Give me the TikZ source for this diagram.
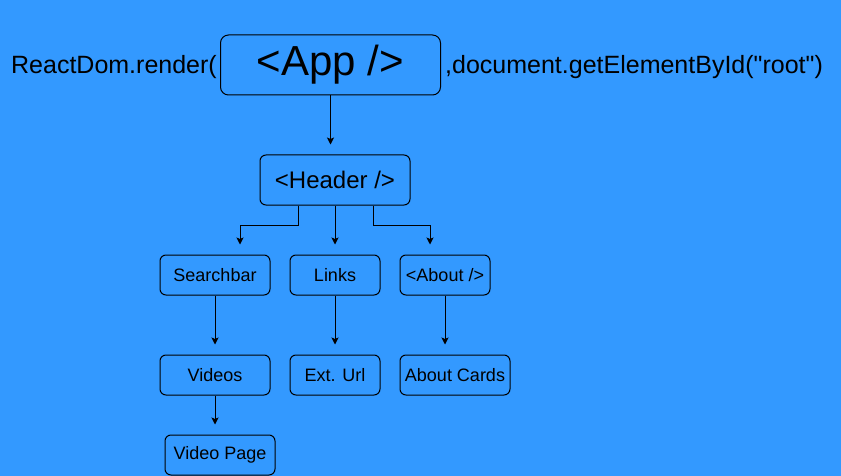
\documentclass[tikz,border=0pt]{standalone}
\usepackage{fontspec}
\setmainfont{Liberation Sans}
\usetikzlibrary{arrows.meta,calc}
\definecolor{bg}{HTML}{3399FF}
\tikzset{
  box/.style={draw=black, line width=1pt, rounded corners=6pt, inner sep=0pt, align=center, text=black},
  arr/.style={draw=black, line width=1pt, -{Stealth[length=7pt,width=7pt,inset=1.5pt]}, shorten >=10pt},
  small/.style={font=\fontsize{18}{20}\selectfont},
}
\begin{document}
\begin{tikzpicture}[x=1pt,y=-1pt]
\fill[bg] (0,0) rectangle (841,476);
\useasboundingbox (0,0) rectangle (841,476);

\node[box, rounded corners=8pt, minimum width=220pt, minimum height=60pt, font=\fontsize{42}{46}\selectfont] (app) at (330.5,65) {<App />};
\node[anchor=base east, inner sep=0pt, font=\fontsize{25}{28}\selectfont] (rd) at (217,74) {ReactDom.render(};
\node[anchor=base west, inner sep=0pt, font=\fontsize{25}{28}\selectfont\addfontfeature{Ligatures=TeXOff}] (doc) at (445,74) {,document.getElementById("root")};

\node[box, minimum width=150pt, minimum height=50pt, font=\fontsize{24}{28}\selectfont] (hdr) at (335,180) {<Header />};

\node[box, small, minimum width=110pt, minimum height=40pt] (sb) at (215,275) {Searchbar};
\node[box, small, minimum width=90pt, minimum height=40pt] (lk) at (335,275) {Links};
\node[box, small, minimum width=90pt, minimum height=40pt] (ab) at (445,275) {<About />};

\node[box, small, minimum width=110pt, minimum height=40pt] (vid) at (215,375) {Videos};
\node[box, small, minimum width=90pt, minimum height=40pt] (ext) at (335,375) {Ext. Url};
\node[box, small, minimum width=110pt, minimum height=40pt] (ac) at (455,375) {About Cards};

\node[box, small, minimum width=110pt, minimum height=40pt] (vp) at (220,455) {Video Page};

\draw[arr] (app.south) -- (app.south |- hdr.north);
\draw[arr] ([xshift=-37pt]hdr.south) -- ++(0,20) -| ([xshift=25pt]sb.north);
\draw[arr] (hdr.south) -- (lk.north);
\draw[arr] ([xshift=38pt]hdr.south) -- ++(0,20) -| ([xshift=-15pt]ab.north);

\draw[arr] (sb.south) -- (vid.north);
\draw[arr] (lk.south) -- (ext.north);
\draw[arr] (ab.south) -- (ab.south |- ac.north);
\draw[arr] (vid.south) -- (vid.south |- vp.north);
\end{tikzpicture}
\end{document}
